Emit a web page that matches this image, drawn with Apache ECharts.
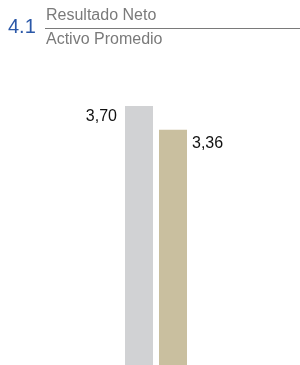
<!DOCTYPE html>
<html><head><meta charset="utf-8">
<script src="https://cdn.jsdelivr.net/npm/echarts@6/dist/echarts.min.js"></script>
<style>html,body{margin:0;padding:0;background:#fff}#c{width:300px;height:365px}</style>
</head><body><div id="c"></div>
<script>
const categories = ['A', 'B'];
const values = [3.70, 3.36];
const labels = ['3,70', '3,36'];
const colors = ['#d1d2d4', '#c9bf9f'];

const chart = echarts.init(document.getElementById('c'));
const font = '"Liberation Sans", Arial, sans-serif';
chart.setOption({
  animation: false,
  grid: { left: 122, width: 68, top: 106, bottom: 0 },
  xAxis: { type: 'category', data: categories, show: false },
  yAxis: { type: 'value', min: 0, max: 3.70, show: false },
  series: [{
    type: 'bar',
    barWidth: 28,
    data: values.map((v, i) => ({
      value: v,
      itemStyle: { color: colors[i] },
      label: {
        show: true,
        formatter: labels[i],
        position: i === 0 ? [-8, 11] : [33, 14],
        align: i === 0 ? 'right' : 'left',
        verticalAlign: 'middle',
        fontSize: 16,
        color: '#111',
        fontFamily: font
      }
    }))
  }],
  graphic: [
    { type: 'text', x: 8, y: 27, style: { text: '4.1', fontSize: 20, fill: '#2b58a8', fontFamily: font, verticalAlign: 'middle' } },
    { type: 'text', x: 46, y: 15.5, style: { text: 'Resultado Neto', fontSize: 16, fill: '#7a7a7a', fontFamily: font, verticalAlign: 'middle' } },
    { type: 'line', shape: { x1: 45, y1: 28.5, x2: 300, y2: 28.5 }, style: { stroke: '#7a7a7a', lineWidth: 1 } },
    { type: 'text', x: 46, y: 40, style: { text: 'Activo Promedio', fontSize: 16, fill: '#7a7a7a', fontFamily: font, verticalAlign: 'middle' } }
  ]
});
</script></body></html>
